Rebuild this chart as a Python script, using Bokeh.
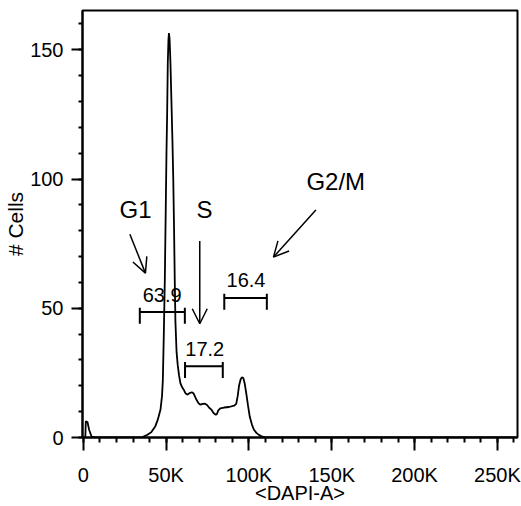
from bokeh.plotting import figure
from bokeh.models import Range1d, SingleIntervalTicker, Arrow, OpenHead
from bokeh.core.properties import value
from bokeh.embed import file_html
from bokeh.resources import INLINE

# ---- data ----
dapi_k = [0, 1.2, 1.5, 2.5, 3.5, 5, 7, 35, 38, 41, 43.5, 45, 46.6, 47.5, 48, 48.6, 49.2, 49.8,
          50.2, 50.6, 51, 51.4, 51.7, 52.1, 52.6, 53.2, 53.8, 54.3, 54.8, 55.2, 55.6, 56.3,
          57.0, 57.8, 58.6, 59.6, 60.6, 61.8, 63, 64.2, 65.5, 66.6, 68, 69.5, 70.7, 72, 73.5,
          74.7, 76, 77.3, 78.6, 80, 80.6, 81.5, 82.7, 85, 88, 91, 92.3, 93.2, 94, 95, 95.8,
          96.6, 97.4, 98.4, 99.4, 100.5, 101.8, 103, 104.5, 106, 107.8, 110, 262]
cells = [0, 0, 6.3, 6.0, 3.0, 0.3, 0, 0, 0.8, 2, 4.4, 7, 10.8, 16, 22, 40, 61, 90,
         110, 125, 145, 154, 156.5, 154, 145, 130, 115, 100, 80, 61, 45, 33,
         28, 24, 21, 19.5, 18.5, 17, 16.6, 17.2, 17.5, 17, 15, 13.3, 12.7, 13, 13.1,
         12.6, 11.5, 10.8, 9.5, 8.8, 9, 10.5, 11.3, 11.6, 11.8, 12.3, 13, 16, 20, 22.5, 23.3,
         23, 21, 17, 12.5, 8, 5, 3, 1.8, 1, 0.4, 0, 0]

x_ticks = [0, 50000, 100000, 150000, 200000, 250000]
x_tick_labels = ["0", "50K", "100K", "150K", "200K", "250K"]
y_ticks = [0, 50, 100, 150]

# gates: start, end (DAPI-A), level (# cells), label position
gate_labels = ["63.9", "17.2", "16.4"]
gate_start = [34100, 61400, 85100]
gate_end = [61300, 84200, 110800]
gate_level = [48.6, 27.6, 54.0]
gate_label_x = [47600, 73300, 98200]
gate_label_y = [55.1, 34.2, 61.1]

# phase annotations
phase_labels = ["G1", "S", "G2/M"]
phase_label_x = [31500, 73100, 152400]
phase_label_y = [88.3, 88.3, 99.0]
arrow_x_start = [28100, 70300, 140400]
arrow_y_start = [78.6, 76.0, 88.0]
arrow_x_end = [37500, 70300, 114800]
arrow_y_end = [63.6, 44.0, 69.8]

FONT = "Liberation Sans"

p = figure(width=521, height=506, output_backend="svg", toolbar_location=None,
           x_range=Range1d(-500, 262144), y_range=Range1d(0, 165.2),
           min_border_left=82, min_border_right=4, min_border_top=10, min_border_bottom=67)
p.grid.visible = False
p.background_fill_color = "white"
p.border_fill_color = "white"
p.outline_line_color = "black"
p.outline_line_width = 2
p.outline_line_alpha = 1

# histogram curve
p.line([v * 1000 for v in dapi_k], cells, line_color="black", line_width=1.8)

# gates
tick_up = 1.6
tick_down = 4.6
p.segment(x0=gate_start, y0=gate_level, x1=gate_end, y1=gate_level, line_color="black", line_width=2)
p.segment(x0=gate_start, y0=[g + tick_up for g in gate_level], x1=gate_start,
          y1=[g - tick_down for g in gate_level], line_color="black", line_width=2)
p.segment(x0=gate_end, y0=[g + tick_up for g in gate_level], x1=gate_end,
          y1=[g - tick_down for g in gate_level], line_color="black", line_width=2)
p.text(x=gate_label_x, y=gate_label_y, text=gate_labels, text_font=value(FONT),
       text_font_size=value("20px"), text_align="center", text_baseline="middle", text_color="black")

# phase labels and arrows
p.text(x=phase_label_x, y=phase_label_y, text=phase_labels, text_font=value(FONT),
       text_font_size=value("24px"), text_align="center", text_baseline="middle", text_color="black")
for xs, ys, xe, ye in zip(arrow_x_start, arrow_y_start, arrow_x_end, arrow_y_end):
    p.add_layout(Arrow(end=OpenHead(size=15, line_width=1.5, line_color="black"),
                       x_start=xs, y_start=ys, x_end=xe, y_end=ye,
                       line_width=1.5, line_color="black"))

# axes
p.xaxis.ticker = SingleIntervalTicker(interval=50000, num_minor_ticks=5)
p.xaxis.major_label_overrides = {t: l for t, l in zip(x_ticks, x_tick_labels)}
p.yaxis.ticker = SingleIntervalTicker(interval=50, num_minor_ticks=5)
p.xaxis.axis_label = "<DAPI-A>"
p.yaxis.axis_label = "# Cells"
for ax in (p.xaxis, p.yaxis):
    ax.axis_line_color = "black"
    ax.axis_line_width = 2
    ax.major_tick_line_color = "black"
    ax.major_tick_line_width = 2
    ax.minor_tick_line_color = "black"
    ax.minor_tick_line_width = 2
    ax.major_tick_in = 0
    ax.minor_tick_in = 0
    ax.major_label_text_font = FONT
    ax.major_label_text_font_size = "20px"
    ax.major_label_text_color = "black"
    ax.axis_label_text_font = FONT
    ax.axis_label_text_font_size = "20px"
    ax.axis_label_text_font_style = "normal"
    ax.axis_label_text_color = "black"
p.yaxis.axis_label_text_font_size = "21px"
p.xaxis.major_tick_out = 13
p.xaxis.minor_tick_out = 5
p.xaxis.major_label_standoff = 13
p.xaxis.axis_label_standoff = -7
p.yaxis.major_tick_out = 11
p.yaxis.minor_tick_out = 4
p.yaxis.major_label_standoff = 8
p.yaxis.axis_label_standoff = 0
p.yaxis.major_label_orientation = "horizontal"

open("out.html", "w").write(file_html(p, INLINE))
